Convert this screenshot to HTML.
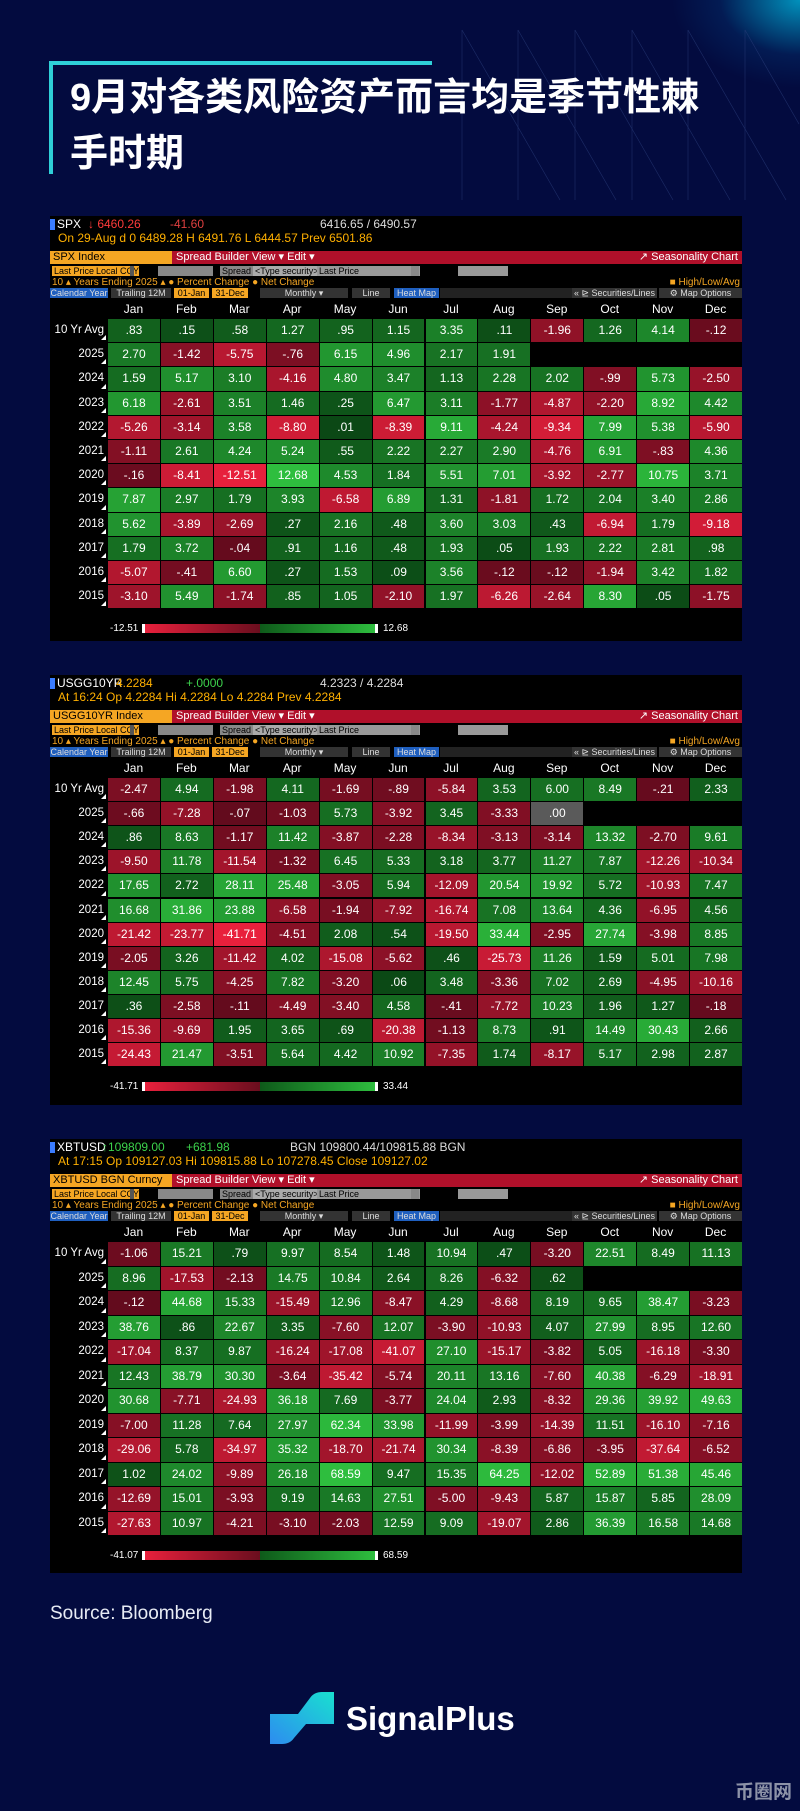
<!DOCTYPE html>
<html><head><meta charset="utf-8">
<style>
*{margin:0;padding:0;box-sizing:border-box}
html,body{width:800px;height:1811px;overflow:hidden}
body{background:#030b3f;position:relative;font-family:"Liberation Sans",sans-serif}
.abs{position:absolute}
.panel{position:absolute;left:50px;width:692px;background:#000;overflow:hidden;font-family:"Liberation Sans Narrow","Liberation Sans",sans-serif;color:#fff}
.t{position:absolute;white-space:nowrap;font-size:11px;line-height:12px}
.cell{position:absolute;text-align:center;font-size:12px;color:#fff}
</style></head><body>
<div class="abs" style="right:0;top:0;width:240px;height:150px;background:radial-gradient(ellipse 160px 110px at 100% 0%,rgba(0,190,230,0.75),rgba(0,120,200,0.15) 50%,rgba(3,11,63,0) 80%)"></div>
<svg class="abs" style="left:0;top:0" width="800" height="220">
<g stroke="#2a3d7a" stroke-width="0.6" opacity="0.7">
<line x1="462" y1="30" x2="560" y2="200"/><line x1="518" y1="30" x2="616" y2="200"/><line x1="575" y1="30" x2="673" y2="200"/><line x1="632" y1="30" x2="730" y2="200"/><line x1="688" y1="30" x2="786" y2="200"/><line x1="745" y1="30" x2="799" y2="124"/>
<line x1="462" y1="30" x2="462" y2="200"/><line x1="518" y1="30" x2="518" y2="200"/><line x1="575" y1="30" x2="575" y2="200"/><line x1="632" y1="30" x2="632" y2="200"/><line x1="688" y1="30" x2="688" y2="200"/><line x1="745" y1="30" x2="745" y2="200"/>
</g></svg>
<div class="abs" style="left:49px;top:61px;width:383px;height:4px;background:#2fd0d8"></div>
<div class="abs" style="left:49px;top:61px;width:4px;height:113px;background:#2fd0d8"></div>
<div class="abs" style="left:70px;top:70px;width:700px;font:bold 38px/56px 'Liberation Sans','Noto Sans CJK SC',sans-serif;color:#fff;white-space:nowrap">9月对各类风险资产而言均是季节性棘<br>手时期</div>
<div id="root"></div>
<div class="abs" style="left:50px;top:1603px;font-size:19px;color:#e8ecf5">Source: Bloomberg</div>
<svg class="abs" style="left:268px;top:1692px" width="70" height="52">
<defs><linearGradient id="lg" x1="0" y1="1" x2="1" y2="0"><stop offset="0" stop-color="#2d8cf0"/><stop offset="1" stop-color="#19e0d0"/></linearGradient></defs>
<path d="M2 22 L30 22 L42 6 Q46 0 54 0 L66 0 L66 32 L38 32 L26 46 Q22 52 14 52 L2 52 Z" fill="url(#lg)"/></svg>
<div class="abs" style="left:346px;top:1699px;font:bold 33px/40px 'Liberation Sans',sans-serif;color:#fff">SignalPlus</div>
<div class="abs" style="left:735px;top:1777px;width:62px;overflow:hidden;white-space:nowrap;font:bold 19px 'Liberation Sans','Noto Sans CJK SC',sans-serif;color:#8d93a8">币圈网</div>
<script>
const months=["Jan","Feb","Mar","Apr","May","Jun","Jul","Aug","Sep","Oct","Nov","Dec"];
const rowLabels=["10 Yr Avg","2025","2024","2023","2022","2021","2020","2019","2018","2017","2016","2015"];
const spxValues=[
[".83",".15",".58","1.27",".95","1.15","3.35",".11","-1.96","1.26","4.14","-.12"],
["2.70","-1.42","-5.75","-.76","6.15","4.96","2.17","1.91"],
["1.59","5.17","3.10","-4.16","4.80","3.47","1.13","2.28","2.02","-.99","5.73","-2.50"],
["6.18","-2.61","3.51","1.46",".25","6.47","3.11","-1.77","-4.87","-2.20","8.92","4.42"],
["-5.26","-3.14","3.58","-8.80",".01","-8.39","9.11","-4.24","-9.34","7.99","5.38","-5.90"],
["-1.11","2.61","4.24","5.24",".55","2.22","2.27","2.90","-4.76","6.91","-.83","4.36"],
["-.16","-8.41","-12.51","12.68","4.53","1.84","5.51","7.01","-3.92","-2.77","10.75","3.71"],
["7.87","2.97","1.79","3.93","-6.58","6.89","1.31","-1.81","1.72","2.04","3.40","2.86"],
["5.62","-3.89","-2.69",".27","2.16",".48","3.60","3.03",".43","-6.94","1.79","-9.18"],
["1.79","3.72","-.04",".91","1.16",".48","1.93",".05","1.93","2.22","2.81",".98"],
["-5.07","-.41","6.60",".27","1.53",".09","3.56","-.12","-.12","-1.94","3.42","1.82"],
["-3.10","5.49","-1.74",".85","1.05","-2.10","1.97","-6.26","-2.64","8.30",".05","-1.75"]];
const ustValues=[
["-2.47","4.94","-1.98","4.11","-1.69","-.89","-5.84","3.53","6.00","8.49","-.21","2.33"],
["-.66","-7.28","-.07","-1.03","5.73","-3.92","3.45","-3.33",".00"],
[".86","8.63","-1.17","11.42","-3.87","-2.28","-8.34","-3.13","-3.14","13.32","-2.70","9.61"],
["-9.50","11.78","-11.54","-1.32","6.45","5.33","3.18","3.77","11.27","7.87","-12.26","-10.34"],
["17.65","2.72","28.11","25.48","-3.05","5.94","-12.09","20.54","19.92","5.72","-10.93","7.47"],
["16.68","31.86","23.88","-6.58","-1.94","-7.92","-16.74","7.08","13.64","4.36","-6.95","4.56"],
["-21.42","-23.77","-41.71","-4.51","2.08",".54","-19.50","33.44","-2.95","27.74","-3.98","8.85"],
["-2.05","3.26","-11.42","4.02","-15.08","-5.62",".46","-25.73","11.26","1.59","5.01","7.98"],
["12.45","5.75","-4.25","7.82","-3.20",".06","3.48","-3.36","7.02","2.69","-4.95","-10.16"],
[".36","-2.58","-.11","-4.49","-3.40","4.58","-.41","-7.72","10.23","1.96","1.27","-.18"],
["-15.36","-9.69","1.95","3.65",".69","-20.38","-1.13","8.73",".91","14.49","30.43","2.66"],
["-24.43","21.47","-3.51","5.64","4.42","10.92","-7.35","1.74","-8.17","5.17","2.98","2.87"]];
const xbtValues=[
["-1.06","15.21",".79","9.97","8.54","1.48","10.94",".47","-3.20","22.51","8.49","11.13"],
["8.96","-17.53","-2.13","14.75","10.84","2.64","8.26","-6.32",".62"],
["-.12","44.68","15.33","-15.49","12.96","-8.47","4.29","-8.68","8.19","9.65","38.47","-3.23"],
["38.76",".86","22.67","3.35","-7.60","12.07","-3.90","-10.93","4.07","27.99","8.95","12.60"],
["-17.04","8.37","9.87","-16.24","-17.08","-41.07","27.10","-15.17","-3.82","5.05","-16.18","-3.30"],
["12.43","38.79","30.30","-3.64","-35.42","-5.74","20.11","13.16","-7.60","40.38","-6.29","-18.91"],
["30.68","-7.71","-24.93","36.18","7.69","-3.77","24.04","2.93","-8.32","29.36","39.92","49.63"],
["-7.00","11.28","7.64","27.97","62.34","33.98","-11.99","-3.99","-14.39","11.51","-16.10","-7.16"],
["-29.06","5.78","-34.97","35.32","-18.70","-21.74","30.34","-8.39","-6.86","-3.95","-37.64","-6.52"],
["1.02","24.02","-9.89","26.18","68.59","9.47","15.35","64.25","-12.02","52.89","51.38","45.46"],
["-12.69","15.01","-3.93","9.19","14.63","27.51","-5.00","-9.43","5.87","15.87","5.85","28.09"],
["-27.63","10.97","-4.21","-3.10","-2.03","12.59","9.09","-19.07","2.86","36.39","16.58","14.68"]];
const spxHeader=["SPX","↓ 6460.26","-41.60","6416.65 / 6490.57","On 29-Aug d 0  6489.28  H 6491.76  L 6444.57  Prev 6501.86","SPX Index"];
const ustHeader=["USGG10YR","4.2284","+.0000","4.2323 / 4.2284","At 16:24   Op 4.2284   Hi 4.2284   Lo 4.2284   Prev 4.2284","USGG10YR Index"];
const xbtHeader=["XBTUSD","↑109809.00","+681.98","BGN 109800.44/109815.88 BGN","At 17:15  Op 109127.03  Hi 109815.88  Lo 107278.45  Close 109127.02","XBTUSD BGN Curncy"];

function lerp(a,b,t){return a.map((x,i)=>Math.round(x+(b[i]-x)*t));}
function colorFor(v,max){
  if(v===0)return "rgb(90,90,90)";
  const t=Math.pow(Math.min(1,Math.abs(v)/max),0.55);
  const c=v>0?lerp([10,70,20],[46,190,62],t):lerp([95,10,28],[232,32,60],t);
  return "rgb("+c.join(",")+")";
}
function add(parent,tag,css,name,text){
  const e=document.createElement(tag);
  e.style.cssText=css;
  if(text!==undefined)e.textContent=text;
  parent.appendChild(e);return e;
}
function buildPanel(top,height,rowH,header,values,slug){
  const p=document.createElement("div");
  p.className="panel";p.style.top=top+"px";p.style.height=height+"px";
  
  
  document.getElementById("root").appendChild(p);
  let e;
  e=add(p,"div","left:0;top:3px;width:5px;height:11px;background:#3a7cff;position:absolute");
  
  
  e=add(p,"div","left:7px;top:2px;font-size:12px;color:#fff","",header[0]);e.className="t";
  
  
  e=add(p,"div","left:"+(slug==="xbt"?52:slug==="ust"?66:38)+"px;top:2px;font-size:12px;color:"+(slug==="ust"?"#ffb000":slug==="xbt"?"#3cd24c":"#ff3b3b"),"",header[1]);e.className="t";
  
  
  e=add(p,"div","left:"+(slug==="spx"?120:136)+"px;top:2px;font-size:12px;color:"+(slug==="spx"?"#e04040":"#3cd24c"),"",header[2]);e.className="t";
  
  
  e=add(p,"div","left:"+(slug==="xbt"?240:270)+"px;top:2px;font-size:12px;color:#ddd","",header[3]);e.className="t";
  
  
  e=add(p,"div","left:8px;top:16px;font-size:12px;color:#ffb000","",header[4]);e.className="t";
  
  
  const bar=add(p,"div","position:absolute;left:0;top:35px;width:692px;height:13px;background:#b0102a");
  
  
  e=add(bar,"div","position:absolute;left:0;top:0;width:122px;height:13px;background:#f5a623;color:#000;font-size:11px;line-height:13px;padding-left:3px",'',header[5]);
  
  
  e=add(bar,"div","position:absolute;left:126px;top:0;font-size:11px;line-height:13px;color:#fff","","Spread Builder   View ▾   Edit ▾");
  
  
  e=add(bar,"div","position:absolute;right:4px;top:0;font-size:11px;line-height:13px;color:#fff","","↗  Seasonality Chart");
  
  
  const fields=[[2,"Last Price","#f5a623",30],[44,"Local CCY","#f5a623",33],[80,"","#555",4],[108,"","#888",55],[170,"Spread","#888",28],[203,"<Type security>","#aaa",61],[267,"Last Price","#999",44],[315,"","#999",55],[361,"","#888",8],[408,"","#999",50]];
  fields.forEach(f=>{e=add(p,"div","position:absolute;left:"+f[0]+"px;top:50px;width:"+(f[3]+(f[1]?12:0))+"px;height:10px;background:"+f[2]+";color:#000;font-size:9px;line-height:10px;padding-left:2px;white-space:nowrap;overflow:hidden","",f[1]);
    
    });
  e=add(p,"div","left:2px;top:61px;font-size:10px;color:#f5a623","","10 ▴  Years  Ending  2025 ▴    ● Percent Change  ● Net Change");e.className="t";
  
  
  e=add(p,"div","right:2px;top:61px;font-size:10px;color:#f5a623","","■ High/Low/Avg");e.className="t";
  
  
  const tabs=[[0,58,"Calendar Year","#1f5fbf"],[61,60,"Trailing 12M","#333"],[124,35,"01-Jan","#f5a623"],[162,36,"31-Dec","#f5a623"],[210,88,"Monthly ▾","#333"],[302,38,"Line","#333"],[344,45,"Heat Map","#1f5fbf"],[390,132,"","#222"],[522,85,"« ⊵ Securities/Lines","#333"],[609,83,"⚙ Map Options","#333"]];
  tabs.forEach(t=>{e=add(p,"div","position:absolute;left:"+t[0]+"px;top:72px;width:"+t[1]+"px;height:10px;background:"+t[3]+";color:"+(t[3]==="#f5a623"?"#000":"#ddd")+";font-size:9px;line-height:10px;text-align:center;white-space:nowrap;overflow:hidden","",t[2]);
    
    });
  const x0=57,cw=(692-x0)/12,rowTop=102;
  months.forEach((m,i)=>{e=add(p,"div","position:absolute;left:"+(x0+i*cw)+"px;top:86px;width:"+cw+"px;text-align:center;font-size:12px;color:#fff","",m);
    
    });
  let max=0;values.forEach(r=>r.forEach(v=>max=Math.max(max,Math.abs(parseFloat(v)))));
  let mn=Infinity,mx=-Infinity;values.forEach(r=>r.forEach(v=>{const n=parseFloat(v);mn=Math.min(mn,n);mx=Math.max(mx,n);}));
  rowLabels.forEach((lab,r)=>{
    const y=rowTop+r*rowH;
    e=add(p,"div","position:absolute;left:0;top:"+y+"px;width:"+(x0-3)+"px;height:"+rowH+"px;line-height:"+rowH+"px;text-align:right;font-size:11.5px;color:#fff","",lab);
    
    
    add(p,"div","position:absolute;left:"+(x0-6)+"px;top:"+(y+rowH-7)+"px;width:0;height:0;border-left:5px solid transparent;border-bottom:5px solid #fff");
    (values[r]||[]).forEach((v,c)=>{
      const n=parseFloat(v);
      const cell=add(p,"div","position:absolute;left:"+(x0+c*cw+1)+"px;top:"+(y+1)+"px;width:"+(cw-1)+"px;height:"+(rowH-1)+"px;line-height:"+(rowH-1)+"px;background:"+colorFor(n,max),"",v);
      cell.className="cell";
      
      
    });
  });
  const ly=rowTop+12*rowH+16;
  e=add(p,"div","left:60px;top:"+(ly-1)+"px;font-size:10px;color:#fff","",String(mn.toFixed(2)));e.className="t";
  
  
  e=add(p,"div","position:absolute;left:92px;top:"+ly+"px;width:236px;height:9px;background:linear-gradient(to right,#e8203c,#6a0e1e 50%,#0e5a1a 50%,#2ebd3e);border-left:3px solid #fff;border-right:3px solid #fff");
  
  
  e=add(p,"div","left:333px;top:"+(ly-1)+"px;font-size:10px;color:#fff","",String(mx.toFixed(2)));e.className="t";
  
  
}
buildPanel(216,425,24.2,spxHeader,spxValues,"spx");
buildPanel(675,430,24.1,ustHeader,ustValues,"ust");
buildPanel(1139,434,24.5,xbtHeader,xbtValues,"xbt");
</script>
</body></html>
